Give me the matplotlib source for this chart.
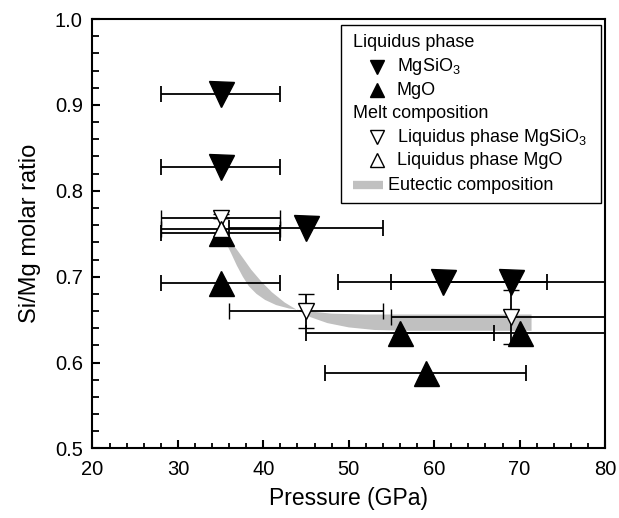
import matplotlib
matplotlib.use("Agg")
import matplotlib.pyplot as plt
from matplotlib.ticker import MultipleLocator
from matplotlib.patches import Rectangle

plt.rcParams['font.family'] = ['Liberation Sans', 'DejaVu Sans']
plt.rcParams['mathtext.default'] = 'regular'

# Liquidus phase MgSiO3 (filled down triangles)
liq_si_p = [35, 35, 45, 61, 69]
liq_si_r = [0.913, 0.828, 0.757, 0.694, 0.694]
liq_si_perr = [7, 7, 9, 12.2, 14]

# Liquidus phase MgO (filled up triangles)
liq_mg_p = [35, 35, 56, 59, 70]
liq_mg_r = [0.693, 0.751, 0.635, 0.588, 0.635]
liq_mg_perr = [7, 7, 11, 11.8, 14]

# Melt composition, liquidus phase MgSiO3 (open down triangles)
melt_si_p = [35, 45, 69]
melt_si_r = [0.768, 0.660, 0.653]
melt_si_perr = [7, 9, 14]
melt_si_rerr = [0.0, 0.020, 0.031]

# Melt composition, liquidus phase MgO (open up triangles)
melt_mg_p = [35]
melt_mg_r = [0.755]
melt_mg_perr = [7]
melt_mg_rerr = [0.018]

# Eutectic composition band (upper and lower edges)
eut_upper_x = [35.0, 35.6, 36.2, 36.9, 37.6, 38.3, 39.2, 40.2, 41.5, 43.0, 45.0, 48.0, 52.0, 71.4]
eut_upper_y = [0.752, 0.740, 0.728, 0.713, 0.700, 0.689, 0.680, 0.673, 0.667, 0.663, 0.660, 0.657, 0.656, 0.656]
eut_lower_x = [35.3, 36.0, 36.8, 37.6, 38.6, 39.8, 41.0, 42.5, 44.0, 45.5, 47.5, 50.0, 53.0, 57.0, 71.4]
eut_lower_y = [0.750, 0.742, 0.733, 0.722, 0.708, 0.694, 0.682, 0.670, 0.661, 0.653, 0.646, 0.641, 0.638, 0.637, 0.637]

fig = plt.figure(figsize=(6.19, 5.18), dpi=100)
ax = fig.add_axes([0.1494, 0.1342, 0.828, 0.829])

gray = '#c0c0c0'
ax.fill(eut_upper_x + eut_lower_x[::-1], eut_upper_y + eut_lower_y[::-1],
        color=gray, lw=0, zorder=1)

ebkw = dict(ecolor='black', elinewidth=1.3, capsize=5.5, capthick=1.3, ls='none')

ax.errorbar(liq_si_p, liq_si_r, xerr=liq_si_perr, marker='v', ms=18,
            mfc='black', mec='black', zorder=3, **ebkw)
ax.errorbar(liq_mg_p, liq_mg_r, xerr=liq_mg_perr, marker='^', ms=18,
            mfc='black', mec='black', zorder=3, **ebkw)
ax.errorbar(melt_si_p, melt_si_r, xerr=melt_si_perr, yerr=melt_si_rerr, marker='v',
            ms=12, mfc='white', mec='black', mew=1.0, zorder=4, **ebkw)
ax.errorbar(melt_mg_p, melt_mg_r, xerr=melt_mg_perr, yerr=melt_mg_rerr, marker='^',
            ms=12, mfc='white', mec='black', mew=1.0, zorder=4, **ebkw)

ax.set_xlim(20, 80)
ax.set_ylim(0.5, 1.0)
ax.xaxis.set_major_locator(MultipleLocator(10))
ax.xaxis.set_minor_locator(MultipleLocator(2))
ax.yaxis.set_major_locator(MultipleLocator(0.1))
ax.yaxis.set_minor_locator(MultipleLocator(0.02))
ax.yaxis.set_major_formatter(matplotlib.ticker.FormatStrFormatter('%.1f'))

for s in ax.spines.values():
    s.set_linewidth(1.5)
ax.tick_params(axis='x', which='major', direction='in', length=5.5, width=1.5,
               labelsize=14.5, pad=8)
ax.tick_params(axis='x', which='minor', direction='in', length=3.5, width=1.3)
ax.tick_params(axis='y', which='major', direction='in', length=6, width=1.5,
               labelsize=14.5, pad=7)
ax.tick_params(axis='y', which='minor', direction='in', length=5, width=1.3)

ax.set_xlabel('Pressure (GPa)', fontsize=16.5, labelpad=6)
ax.set_ylabel('Si/Mg molar ratio', fontsize=17, labelpad=10)

# Legend drawn manually
tr = ax.transAxes
ax.add_patch(Rectangle((0.4843, 0.5723), 0.9916 - 0.4843, 0.986 - 0.5723,
                       transform=tr, fill=True, fc='white', ec='black', lw=1.0, zorder=6))
rows = [0.9448, 0.889, 0.8347, 0.781, 0.7253, 0.6717, 0.6135]
fs = 13
ax.text(0.5077, rows[0], 'Liquidus phase', transform=tr, fontsize=fs, va='center', zorder=7)
ax.plot([0.5545], [rows[1]], marker='v', ms=10, color='black', transform=tr, zorder=7)
ax.text(0.5936, rows[1], r'MgSiO$_3$', transform=tr, fontsize=fs, va='center', zorder=7)
ax.plot([0.5545], [rows[2]], marker='^', ms=10, color='black', transform=tr, zorder=7)
ax.text(0.5936, rows[2], 'MgO', transform=tr, fontsize=fs, va='center', zorder=7)
ax.text(0.5077, rows[3], 'Melt composition', transform=tr, fontsize=fs, va='center', zorder=7)
ax.plot([0.5545], [rows[4]], marker='v', ms=10, mfc='white', mec='black', mew=1.0,
        transform=tr, zorder=7)
ax.text(0.5936, rows[4], r'Liquidus phase MgSiO$_3$', transform=tr, fontsize=fs,
        va='center', zorder=7)
ax.plot([0.5545], [rows[5]], marker='^', ms=10, mfc='white', mec='black', mew=1.0,
        transform=tr, zorder=7)
ax.text(0.5936, rows[5], 'Liquidus phase MgO', transform=tr, fontsize=fs, va='center', zorder=7)
ax.plot([0.5077, 0.5662], [rows[6], rows[6]], color=gray, lw=6, solid_capstyle='butt',
        transform=tr, zorder=7)
ax.text(0.5772, rows[6], 'Eutectic composition', transform=tr, fontsize=fs, va='center', zorder=7)

fig.savefig('out.png', dpi=100)
